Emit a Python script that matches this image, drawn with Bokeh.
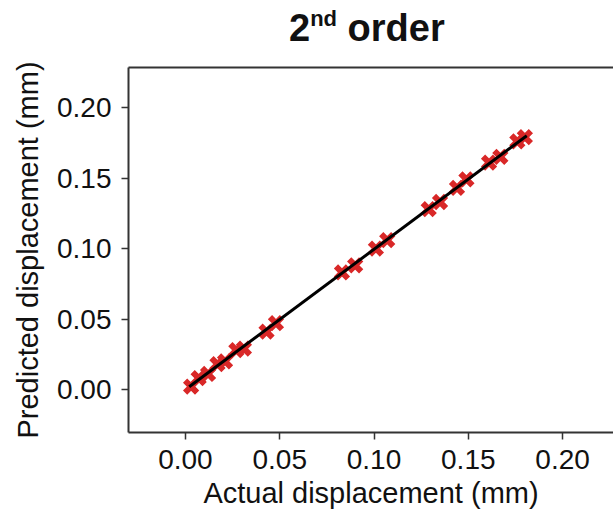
from bokeh.plotting import figure
from bokeh.models import Range1d, LinearAxis, FixedTicker, NumeralTickFormatter, Div
from bokeh.layouts import column
from bokeh.embed import file_html
from bokeh.resources import INLINE

# Data
actual = [0.003, 0.007, 0.012, 0.017, 0.021, 0.027, 0.031,
          0.043, 0.048, 0.083, 0.090, 0.101, 0.107,
          0.129, 0.135, 0.144, 0.149, 0.161, 0.167, 0.176, 0.180]
predicted = [0.002, 0.008, 0.011, 0.018, 0.020, 0.028, 0.029,
             0.041, 0.047, 0.083, 0.088, 0.100, 0.106,
             0.128, 0.133, 0.143, 0.149, 0.161, 0.165, 0.176, 0.179]
fit_x = [0.002, 0.181]
fit_y = [0.002, 0.180]
ticks = [0.00, 0.05, 0.10, 0.15, 0.20]
title_main = "2"
title_sup = "nd"
title_rest = " order"

FONT = "Liberation Sans"
AX = "#333333"
TXT = "#111111"

XR = (-0.0302, 0.227)
YR = (-0.0305, 0.2284)

title_html = (
    f'<div style="margin:0;padding:9px 0 0 289px;line-height:38px;white-space:nowrap;'
    f'font-family:\'{FONT}\';font-weight:bold;font-size:38px;color:{TXT};">'
    f'{title_main}<span style="font-size:22px;position:relative;top:-15px;">{title_sup}</span>'
    f'{title_rest}</div>'
)
title_div = Div(text=title_html, width=613, height=60, margin=0)

p = figure(width=613, height=454, output_backend="svg", toolbar_location=None,
           x_range=Range1d(*XR), y_range=Range1d(*YR),
           min_border_left=128, min_border_right=0, min_border_top=7, min_border_bottom=82,
           background_fill_color="white", border_fill_color="white", margin=0)
p.outline_line_color = None
p.grid.visible = False

p.scatter(actual, predicted, marker="x", size=17, line_width=6, line_color="#d92828")
p.line(fit_x, fit_y, line_color="black", line_width=3)

for ax in (p.xaxis[0], p.yaxis[0]):
    ax.ticker = FixedTicker(ticks=ticks)
    ax.formatter = NumeralTickFormatter(format="0.00")
    ax.axis_line_color = AX
    ax.axis_line_width = 2
    ax.major_tick_line_color = AX
    ax.major_tick_line_width = 1.5
    ax.major_tick_out = 7
    ax.major_tick_in = 0
    ax.minor_tick_line_color = None
    ax.major_label_text_font = FONT
    ax.major_label_text_font_size = "28px"
    ax.major_label_text_color = TXT
    ax.axis_label_text_font = FONT
    ax.axis_label_text_font_size = "29px"
    ax.axis_label_text_font_style = "normal"
    ax.axis_label_text_color = TXT

p.xaxis.axis_label = "Actual displacement (mm)"
p.yaxis.axis_label = "Predicted displacement (mm)"
p.xaxis.major_label_standoff = 10
p.yaxis.major_label_standoff = 10
p.xaxis.axis_label_standoff = 5
p.yaxis.axis_label_standoff = 10

top = LinearAxis(ticker=FixedTicker(ticks=[]), major_label_text_font_size="0px",
                 axis_line_color=AX, axis_line_width=2, major_tick_line_color=None,
                 minor_tick_line_color=None)
p.add_layout(top, "above")

layout = column(title_div, p, spacing=0, margin=0)
open("out.html", "w").write(file_html(layout, INLINE))
